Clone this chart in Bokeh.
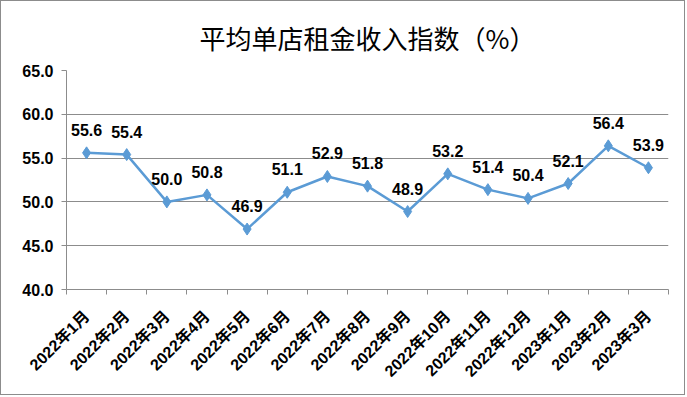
import math
from bokeh.plotting import figure
from bokeh.models import (ColumnDataSource, Range1d, FixedTicker, LabelSet,
                          PrintfTickFormatter)
from bokeh.core.properties import value
from bokeh.embed import file_html
from bokeh.resources import INLINE

title_text = "平均单店租金收入指数（%）"
months = ["2022年1月", "2022年2月", "2022年3月", "2022年4月", "2022年5月",
          "2022年6月", "2022年7月", "2022年8月", "2022年9月", "2022年10月",
          "2022年11月", "2022年12月", "2023年1月", "2023年2月", "2023年3月"]
values = [55.6, 55.4, 50.0, 50.8, 46.9, 51.1, 52.9, 51.8, 48.9, 53.2,
          51.4, 50.4, 52.1, 56.4, 53.9]
y_ticks = [40, 45, 50, 55, 60, 65]

LINE = "#5B9BD5"
GRID = "#8c8c8c"

xs = list(range(1, len(months) + 1))
src = ColumnDataSource(dict(x=xs, y=values, lab=["%.1f" % v for v in values]))

p = figure(width=685, height=395, output_backend="svg", toolbar_location=None,
           x_range=Range1d(0.5, len(months) + 0.5), y_range=Range1d(40, 65),
           min_border_left=65, min_border_right=18, min_border_top=68,
           min_border_bottom=107)
p.styles = {"border": "1px solid #8c8c8c"}
p.outline_line_color = None
p.background_fill_color = "white"
p.border_fill_color = "white"

p.title.text = title_text
p.title.align = "center"
p.title.offset = -7
p.title.text_font = "Noto Sans CJK SC"
p.title.text_font_size = "26px"
p.title.text_font_style = "normal"
p.title.text_color = "black"
p.title.standoff = 30

# x axis
xa = p.xaxis[0]
xa.ticker = FixedTicker(ticks=xs, minor_ticks=[i + 0.5 for i in range(0, len(months) + 1)])
xa.major_label_overrides = {i: m for i, m in zip(xs, months)}
xa.major_tick_line_color = None
xa.minor_tick_in = 0
xa.minor_tick_out = 5
xa.minor_tick_line_color = GRID
xa.axis_line_color = GRID
xa.major_label_orientation = math.pi / 4
xa.major_label_text_font = "Liberation Sans, Noto Sans CJK SC"
xa.major_label_text_font_style = "bold"
xa.major_label_text_font_size = "16px"
xa.major_label_text_color = "black"
xa.major_label_standoff = 18

# y axis
ya = p.yaxis[0]
ya.ticker = FixedTicker(ticks=y_ticks)
ya.formatter = PrintfTickFormatter(format="%.1f")
ya.major_tick_in = 0
ya.major_tick_out = 5
ya.major_tick_line_color = GRID
ya.minor_tick_line_color = None
ya.axis_line_color = GRID
ya.major_label_text_font = "Liberation Sans"
ya.major_label_text_font_style = "bold"
ya.major_label_text_font_size = "16px"
ya.major_label_text_color = "black"
ya.major_label_standoff = 8

p.xgrid.grid_line_color = None
p.ygrid.grid_line_color = GRID
p.ygrid.grid_line_width = 1

p.line("x", "y", source=src, line_color=LINE, line_width=2.5)
p.scatter("x", "y", source=src, marker="diamond", size=12, fill_color=LINE,
          line_color=LINE)

labels = LabelSet(x="x", y="y", text="lab", source=src, y_offset=23,
                  text_align="center", text_baseline="middle",
                  text_font=value("Liberation Sans"), text_font_style="bold",
                  text_font_size="16px", text_color="black")
p.add_layout(labels)

open("out.html", "w").write(file_html(p, INLINE))
